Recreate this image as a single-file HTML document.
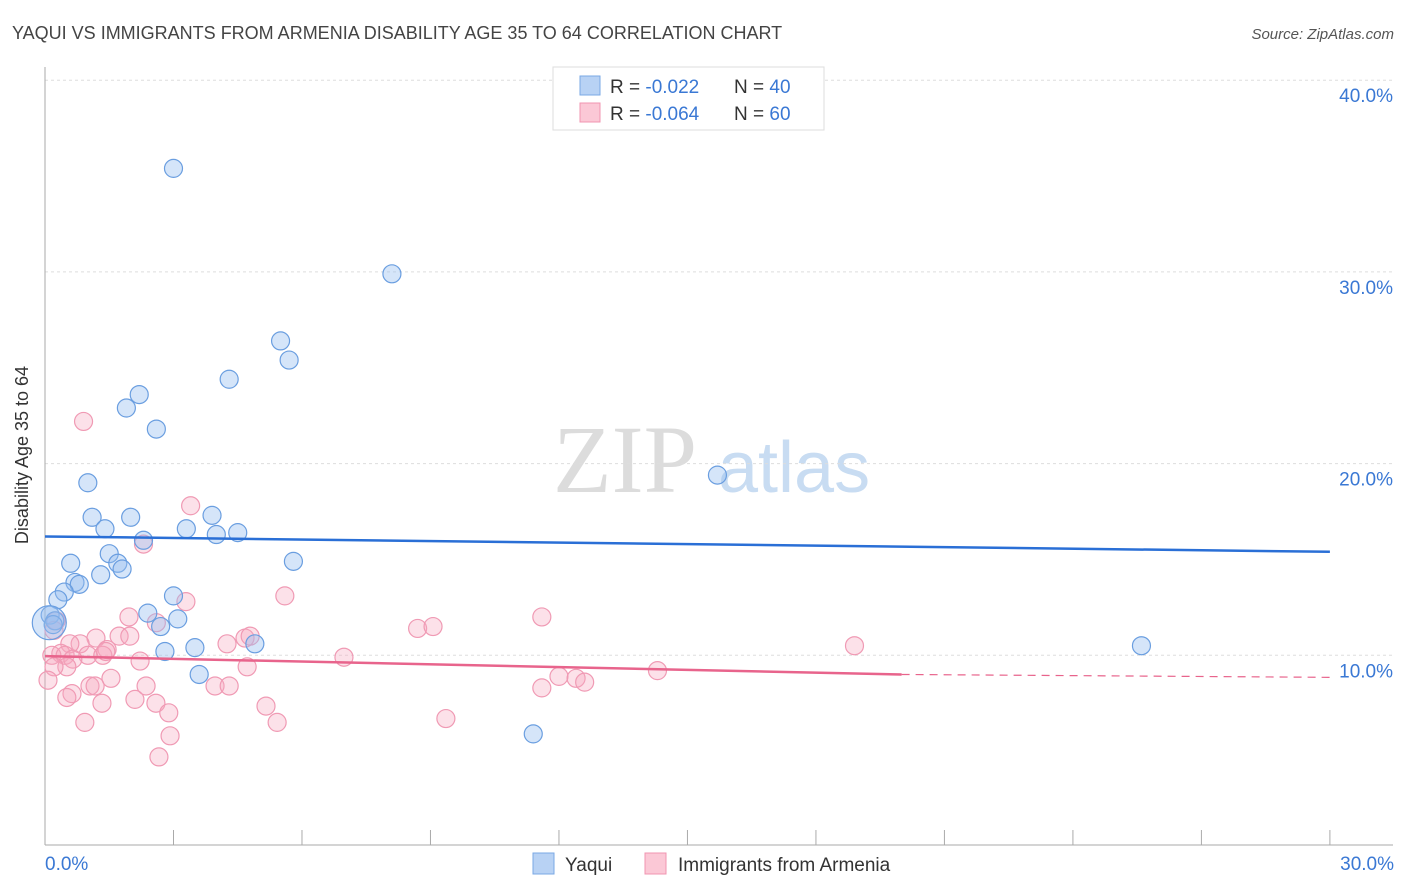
<!DOCTYPE html>
<html><head><meta charset="utf-8"><style>
body{margin:0;background:#fff;font-family:"Liberation Sans",sans-serif;}
svg{display:block}
</style></head><body>
<svg id="chart" width="1406" height="892" xmlns="http://www.w3.org/2000/svg">
<text x="12" y="39" font-size="18" fill="#444">YAQUI VS IMMIGRANTS FROM ARMENIA DISABILITY AGE 35 TO 64 CORRELATION CHART</text>
<text x="1394" y="39" font-size="15" fill="#555" font-style="italic" text-anchor="end">Source: ZipAtlas.com</text>
<g>
<text x="553" y="492" font-size="96" font-family="Liberation Serif,serif" fill="#dcdcdc">ZIP</text>
<text x="718" y="492" font-size="72" fill="#c8dcf2">atlas</text>
</g>
<g id="grid"></g>
<g id="axes"></g>
<g id="pts"></g>
<g id="trend"></g>
<text x="28" y="455" font-size="18" fill="#333" transform="rotate(-90 28 455)" text-anchor="middle">Disability Age 35 to 64</text>
<text x="45" y="870" font-size="19" fill="#3a78d4">0.0%</text>
<text x="1394" y="870" font-size="19" fill="#3a78d4" text-anchor="end">30.0%</text>
<g>
<rect x="553" y="67" width="271" height="63" fill="#fff" stroke="#ddd"/>
<rect x="580" y="76" width="20" height="19" fill="#b8d2f4" stroke="#7aa8e4"/>
<rect x="580" y="103" width="20" height="19" fill="#fbc8d6" stroke="#f094b0"/>
<text x="610" y="93" font-size="19" fill="#333">R = <tspan fill="#3a78d4">-0.022</tspan><tspan x="734">N = </tspan><tspan fill="#3a78d4">40</tspan></text>
<text x="610" y="120" font-size="19" fill="#333">R = <tspan fill="#3a78d4">-0.064</tspan><tspan x="734">N = </tspan><tspan fill="#3a78d4">60</tspan></text>
</g>
<g>
<rect x="533" y="853" width="21" height="21" fill="#b8d2f4" stroke="#7aa8e4"/>
<text x="565" y="871" font-size="19" fill="#333">Yaqui</text></g>
<g>
<rect x="645" y="853" width="21" height="21" fill="#fbc8d6" stroke="#f094b0"/>
<text x="678" y="871" font-size="19" fill="#333">Immigrants from Armenia</text></g>
</svg>
<script>
const yTicks=[10,20,30,40];
const yTickLabels=["10.0%","20.0%","30.0%","40.0%"];
const yaquiX=[3.0,8.1,5.5,5.7,4.3,2.2,1.9,2.6,1.0,15.7,1.1,2.0,3.9,3.3,1.4,4.0,4.5,2.3,1.5,0.6,5.8,1.7,1.8,1.3,0.7,0.8,0.45,0.3,3.0,2.4,0.12,0.23,3.1,2.7,0.19,3.5,4.9,2.8,3.6,11.4,25.6];
const yaquiY=[35.4,29.9,26.4,25.4,24.4,23.6,22.9,21.8,19.0,19.4,17.2,17.2,17.3,16.6,16.6,16.3,16.4,16.0,15.3,14.8,14.9,14.8,14.5,14.2,13.8,13.7,13.3,12.9,13.1,12.2,12.1,11.8,11.9,11.5,11.6,10.4,10.6,10.2,9.0,5.9,10.5];
const armX=[0.9,3.4,2.3,5.6,11.6,1.96,3.29,2.6,8.7,9.06,18.9,0.26,0.21,1.19,1.73,1.98,0.82,0.58,1.45,4.67,4.79,4.25,0.37,0.16,0.47,1.0,1.35,1.42,0.65,6.98,2.22,4.72,0.51,0.21,14.3,12.0,12.4,12.6,1.54,0.07,11.6,1.05,1.17,2.36,3.97,4.3,0.63,0.51,2.1,1.33,2.59,5.16,2.89,9.36,0.93,5.42,2.92,2.66];
const armY=[22.2,17.8,15.8,13.1,12.0,12.0,12.8,11.7,11.4,11.5,10.5,11.8,11.3,10.9,11.0,11.0,10.6,10.6,10.3,10.9,11.0,10.6,10.1,10.0,10.0,10.0,10.0,10.2,9.8,9.9,9.7,9.4,9.4,9.4,9.2,8.9,8.8,8.6,8.8,8.7,8.3,8.4,8.4,8.4,8.4,8.4,8.0,7.8,7.7,7.5,7.5,7.35,7.0,6.7,6.5,6.5,5.8,4.7];
const yaquiTrend=[16.2,15.4];
const armTrend=[9.96,9.0,8.85];
const X=v=>45+v*42.83, Y=v=>847-v*19.17;
const NS="http://www.w3.org/2000/svg";
function mk(tag,attrs,parent){const e=document.createElementNS(NS,tag);for(const k in attrs)e.setAttribute(k,attrs[k]);document.getElementById(parent).appendChild(e);return e;}
yTicks.forEach((t,i)=>{
 const l=mk('line',{x1:45,x2:1393,y1:Y(t),y2:Y(t),stroke:'#ddd','stroke-dasharray':'3,3'},'grid');
 
 
 const tx=mk('text',{x:1393,y:Y(t)+22,'font-size':19,fill:'#3a78d4','text-anchor':'end'},'grid');
 tx.textContent=yTickLabels[i];
 
 
});
const a1=mk('line',{x1:45,x2:45,y1:67,y2:845,stroke:'#aaa'},'axes');


const a2=mk('line',{x1:45,x2:1393,y1:845,y2:845,stroke:'#aaa'},'axes');


for(let i=0;i<=10;i++){const t=mk('line',{x1:X(i*3),x2:X(i*3),y1:830,y2:845,stroke:'#aaa'},'axes');
 
 }
armX.forEach((x,i)=>{const c=mk('circle',{cx:X(x),cy:Y(armY[i]),r:9,fill:'rgba(245,170,192,0.35)',stroke:'#f09ab4','stroke-width':1.2},'pts');
 
 });
yaquiX.forEach((x,i)=>{const c=mk('circle',{cx:X(x),cy:Y(yaquiY[i]),r:9,fill:'rgba(150,190,240,0.4)',stroke:'#6a9ee0','stroke-width':1.2},'pts');
 
 });
const bc=mk('circle',{cx:X(0.1),cy:Y(11.7),r:17,fill:'rgba(150,190,240,0.4)',stroke:'#6a9ee0','stroke-width':1.2},'pts');


const t1=mk('line',{x1:X(0),x2:X(30),y1:Y(yaquiTrend[0]),y2:Y(yaquiTrend[1]),stroke:'#2a6fd6','stroke-width':2.5},'trend');


const t2=mk('line',{x1:X(0),x2:X(20),y1:Y(armTrend[0]),y2:Y(armTrend[1]),stroke:'#e8648c','stroke-width':2.5},'trend');


const t3=mk('line',{x1:X(20),x2:X(30),y1:Y(armTrend[1]),y2:Y(armTrend[2]),stroke:'#e8648c','stroke-width':1.2,'stroke-dasharray':'8,6'},'trend');


</script>
</body></html>
